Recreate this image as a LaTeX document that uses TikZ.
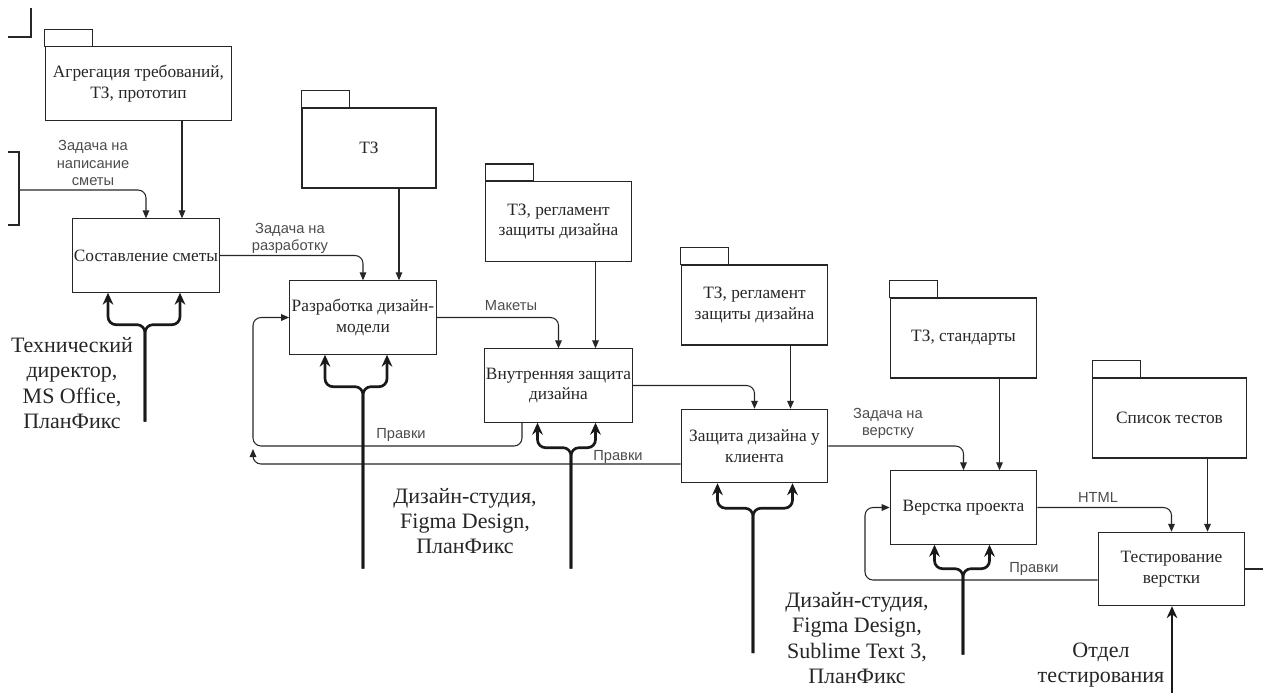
\documentclass[tikz,border=0pt]{standalone}
\usepackage{fontspec}
\setmainfont{Liberation Serif}
\setsansfont{Liberation Sans}
\newfontfamily\serifcyr{Liberation Serif}
\newfontfamily\sanscyr{Liberation Sans}
\usetikzlibrary{arrows.meta,calc}

\begin{document}
\begin{tikzpicture}[x=0.75pt,y=-0.75pt,
    proc/.style={draw=black!85, line width=0.8pt, minimum width=110pt, minimum height=55pt, inner sep=1pt, align=center, font=\serifcyr\fontsize{13}{15.5}\selectfont, text=black!85},
    pkg/.style={draw=black!85, line width=0.8pt, minimum height=60pt, inner sep=1pt, align=center, font=\serifcyr\fontsize{13}{15.5}\selectfont, text=black!85},
    arr/.style={draw=black!85, line width=0.8pt, rounded corners=6pt, -{Triangle[length=6pt,width=5pt]}},
    mech/.style={draw=black!90, line width=2pt, rounded corners=6pt, -{Stealth[length=9pt,width=8pt,inset=3pt]}},
    lbl/.style={font=\sanscyr\fontsize{11}{12.8}\selectfont, text=black!70, align=center, inner sep=0pt},
    res/.style={font=\serifcyr\fontsize{16.5}{19}\selectfont, text=black!85, align=center, inner sep=0pt}
]
\useasboundingbox (0,0) rectangle (1264,693);

% work blocks
\node[proc] (bEst) at (146,255.5) {Составление сметы};
\node[proc] (bDev) at (363,317.5) {Разработка дизайн-\\модели};
\node[proc] (bInt) at (558.5,385.5) {Внутренняя защита\\дизайна};
\node[proc] (bCli) at (754.5,446) {Защита дизайна у\\клиента};
\node[proc] (bLay) at (963.5,507.5) {Верстка проекта};
\node[proc] (bTst) at (1171.5,569) {Тестирование\\верстки};

% documents (controls)
\node[pkg, minimum width=140pt, minimum height=55pt] (pAgr) at (138.5,83.5) {Агрегация требований,\\ТЗ, прототип};
\node[pkg, minimum width=100.5pt] (pTZ) at (369,148) {ТЗ};
\node[pkg, minimum width=109pt] (pReg1) at (558.5,221.5) {ТЗ, регламент\\защиты дизайна};
\node[pkg, minimum width=110pt] (pReg2) at (754.5,305) {ТЗ, регламент\\защиты дизайна};
\node[pkg, minimum width=110pt] (pStd) at (963.5,338) {ТЗ, стандарты};
\node[pkg, minimum width=115pt] (pTests) at (1169.5,418) {Список тестов};
\foreach \p in {pAgr,pTZ,pReg1,pReg2,pStd,pTests} {
  \draw[draw=black!85, line width=0.8pt] (\p.north west) rectangle ++(48,-17);
}
\foreach \p/\b/\d in {pAgr/bEst/36,pTZ/bDev/36,pReg1/bInt/37,pReg2/bCli/36,pStd/bLay/36,pTests/bTst/36} {
  \path ($(\b.north)+(\d,0)$) coordinate (t\b);
  \draw[arr] (t\b |- \p.south) -- (t\b);
}

% cut-off frames on the left
\draw[draw=black!85, line width=0.8pt] (31,8) -- (31,37) -- (8,37);
\draw[draw=black!85, line width=0.8pt] (8,152) -- (19,152) -- (19,225) -- (8,225);
\coordinate (in1) at (19,190);

% outputs
\draw[arr] (in1) -| (bEst.north);
\draw[arr] (bEst.east) -| (bDev.north);
\draw[arr] (bDev.east) -| (bInt.north);
\draw[arr] (bInt.east) -| (bCli.north);
\draw[arr] (bCli.east) -| (bLay.north);
\draw[arr] (bLay.east) -| (bTst.north);
\draw[draw=black!85, line width=0.8pt] (bTst.east) -- ++(18,0);

% corrections
\coordinate (k1) at (253,446);
\coordinate (k2) at (253,449);
\coordinate (k3) at (865,507.5);
\draw[arr] ($(bInt.south)+(-36.5,0)$) |- (k1) |- (bDev.west);
\draw[arr] ($(bCli.west)+(0,18)$) -| (k2);
\draw[arr] ($(bTst.west)+(0,11)$) -| (k3) -- (bLay.west);

% mechanisms
\foreach \b/\l/\r/\v/\d/\e in {bEst/-38/34/-1/32/129,bDev/-38/24/0/32/214,bInt/-21/37/12.5/25/146,bCli/-37/38/-1.5/25/170,bLay/-29/26/-0.5/24/110} {
  \path ($(\b.south)+(\v,\e)$) coordinate (m\b);
  \draw[mech] (m\b) |- ($(\b.south)+(\l,\d)$) -- ($(\b.south)+(\l,0)$);
  \draw[mech] (m\b) |- ($(\b.south)+(\r,\d)$) -- ($(\b.south)+(\r,0)$);
}
\coordinate (mbTst) at (1172,693);
\draw[mech] (mbTst) -- (mbTst |- bTst.south);

% arrow labels
\node[lbl] (lEst) at (93,163) {Задача на\\написание\\сметы};
\node[lbl] (lDev) at (290,238) {Задача на\\разработку};
\node[lbl] (lMak) at (511,306) {Макеты};
\node[lbl] (lFix1) at (401,435) {Правки};
\node[lbl] (lFix2) at (618,457) {Правки};
\node[lbl] (lLay) at (888,423) {Задача на\\верстку};
\node[lbl] (lHtml) at (1098,497) {HTML};
\node[lbl] (lFix3) at (1034,569) {Правки};

% resources
\node[res] (rEst) at (72,383) {Технический\\директор,\\MS Office,\\ПланФикс};
\node[res] (rDev) at (465,521) {Дизайн-студия,\\Figma Design,\\ПланФикс};
\node[res] (rCli) at (857,638) {Дизайн-студия,\\Figma Design,\\Sublime Text 3,\\ПланФикс};
\node[res] (rTst) at (1101,665) {Отдел\\тестирования};
\end{tikzpicture}
\end{document}
